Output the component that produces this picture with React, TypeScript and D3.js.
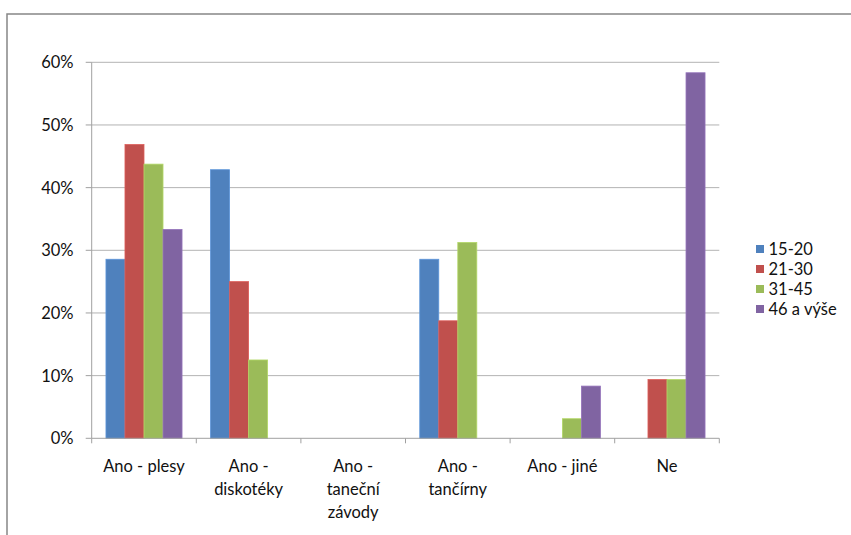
import React from "react";
import * as d3 from "d3";

const categories: string[][] = [
  ["Ano - plesy"],
  ["Ano -", "diskotéky"],
  ["Ano -", "taneční", "závody"],
  ["Ano -", "tančírny"],
  ["Ano - jiné"],
  ["Ne"],
];
const seriesNames = ["15-20", "21-30", "31-45", "46 a výše"];
const s1520 = [0.2857, 0.4286, 0, 0.2857, 0, 0];
const s2130 = [0.46875, 0.25, 0, 0.1875, 0, 0.09375];
const s3145 = [0.4375, 0.125, 0, 0.3125, 0.03125, 0.09375];
const s46 = [0.3333, 0, 0, 0, 0.0833, 0.5833];
const seriesValues = [s1520, s2130, s3145, s46];
const colors = ["#4F81BD", "#C0504D", "#9BBB59", "#8064A2"];
const yTicks = [0, 0.1, 0.2, 0.3, 0.4, 0.5, 0.6];

const W = 851;
const H = 535;
const FONT = "Lato, 'Open Sans', sans-serif";
const FS = 16.5;

export default function App() {
  const left = 91.7;
  const right = 719.3;
  const top = 62.3;
  const bottom = 438.3;
  const idx = categories.map((_, i) => String(i));
  const x = d3.scaleBand<string>().domain(idx).range([left, right]).padding(0);
  const inner = d3
    .scaleBand<string>()
    .domain(seriesNames)
    .range([0, x.bandwidth()])
    .paddingInner(0)
    .paddingOuter(0.75);
  const y = d3.scaleLinear().domain([0, 0.6]).range([bottom, top]);
  const fmt = d3.format(".0%");
  const boundaries = idx.map((k) => x(k) as number).concat([right]);

  return (
    <div style={{ position: "absolute", left: 0, top: 0 }}>
      <svg width={W} height={H} style={{ display: "block", background: "#fff" }}>
        {/* frame */}
        <rect x={7} y={14} width={W + 10} height={H + 10} fill="#fff" stroke="#878787" strokeWidth={1.5} />
        {/* gridlines */}
        {yTicks.slice(1).map((t) => (
          <line key={"g" + t} x1={left} x2={right} y1={y(t)} y2={y(t)} stroke="#b3b3b3" strokeWidth={1} />
        ))}
        {/* y ticks and labels */}
        {yTicks.map((t) => (
          <g key={"y" + t}>
            <line x1={left - 6} x2={left} y1={y(t)} y2={y(t)} stroke="#a0a0a0" strokeWidth={1} />
            <text
              x={73.5}
              y={y(t)}
              textAnchor="end"
              dominantBaseline="central"
              fontFamily={FONT}
              fontSize={FS}
              fill="#111"
            >
              {fmt(t)}
            </text>
          </g>
        ))}
        {/* bars */}
        {seriesValues.map((vals, si) =>
          vals.map((v, ci) =>
            v > 0 ? (
              <rect
                key={`b${si}-${ci}`}
                x={(x(String(ci)) as number) + (inner(seriesNames[si]) as number)}
                y={y(v)}
                width={inner.bandwidth()}
                height={bottom - y(v)}
                fill={colors[si]}
                stroke={d3.color(colors[si])!.brighter(0.4).toString()}
                strokeWidth={0.8}
              />
            ) : null
          )
        )}
        {/* axes */}
        <line x1={left} x2={left} y1={top} y2={bottom} stroke="#a0a0a0" strokeWidth={1} />
        <line x1={left} x2={right} y1={bottom} y2={bottom} stroke="#a0a0a0" strokeWidth={1} />
        {boundaries.map((bx, i) => (
          <line key={"xt" + i} x1={bx} x2={bx} y1={bottom} y2={bottom + 5} stroke="#a0a0a0" strokeWidth={1} />
        ))}
        {/* x labels */}
        {categories.map((lines, ci) => (
          <text
            key={"xl" + ci}
            x={(x(String(ci)) as number) + x.bandwidth() / 2}
            y={472}
            textAnchor="middle"
            fontFamily={FONT}
            fontSize={FS}
            fill="#111"
          >
            {lines.map((ln, li) => (
              <tspan key={li} x={(x(String(ci)) as number) + x.bandwidth() / 2} dy={li === 0 ? 0 : 23}>
                {ln}
              </tspan>
            ))}
          </text>
        ))}
        {/* legend */}
        {seriesNames.map((n, i) => {
          const cy = 249 + i * 20;
          return (
            <g key={"l" + n}>
              <rect x={756} y={cy - 4} width={8} height={8} fill={colors[i]} />
              <text x={768.5} y={cy} dominantBaseline="central" fontFamily={FONT} fontSize={FS} fill="#111">
                {n}
              </text>
            </g>
          );
        })}
      </svg>
    </div>
  );
}
